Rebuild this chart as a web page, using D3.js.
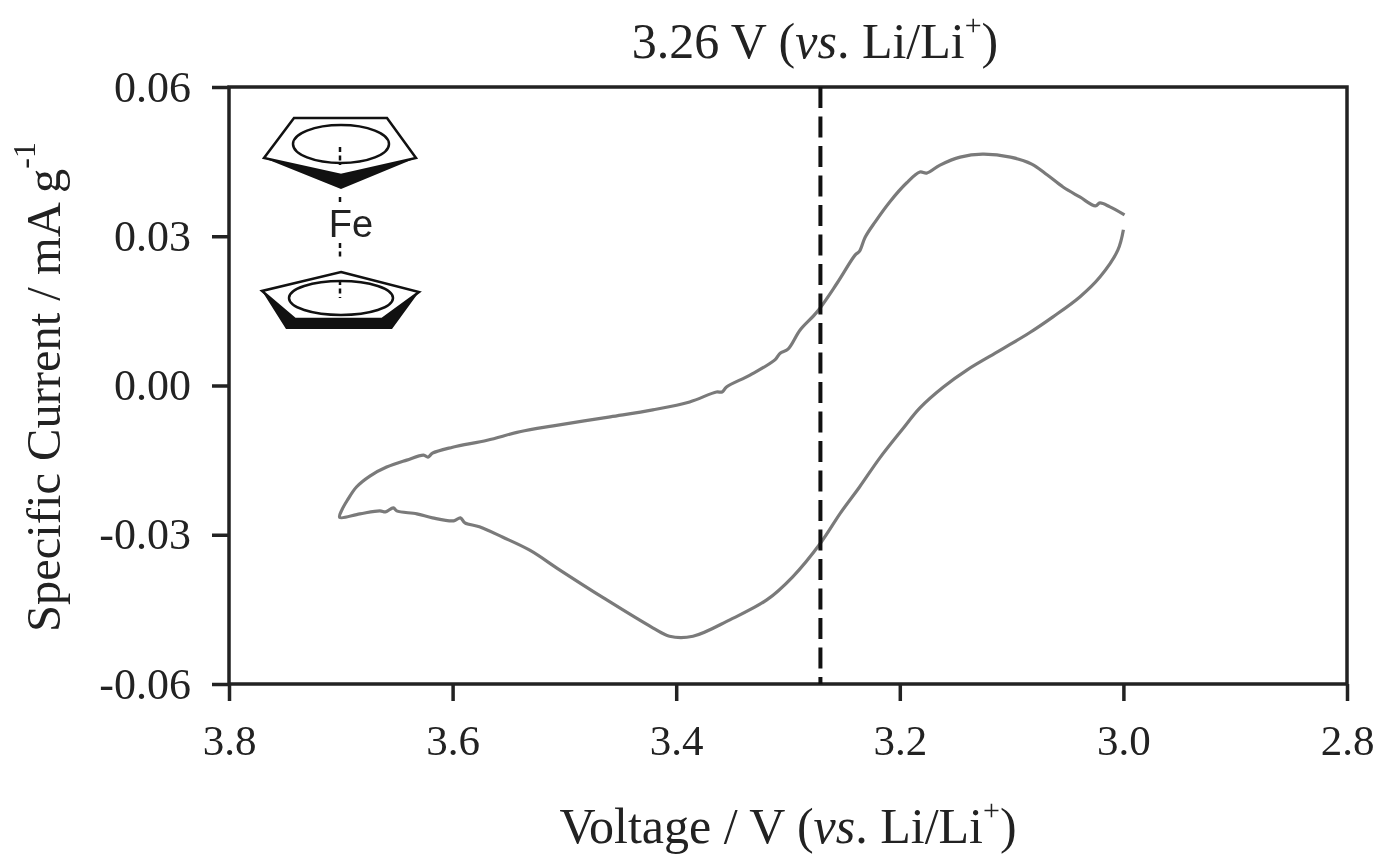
<!DOCTYPE html>
<html>
<head>
<meta charset="utf-8">
<script src="https://cdn.jsdelivr.net/npm/d3@7"></script>
<style>
  html, body { margin: 0; padding: 0; background: #fff; }
  svg { filter: blur(0.5px); }
  text { font-family: 'Liberation Serif', serif; fill: #222; }
  .axis path, .axis line { stroke: #222; stroke-width: 3.5; }
  .x-axis text { font-size: 43px; }
  .y-axis text { font-size: 44px; }
  .label { font-size: 50px; }
  .y-label { font-size: 48.5px; }
</style>
</head>
<body>
<div id="chart"></div>
<script>
// cyclic voltammogram
const voltage = [
  3.000, 3.005, 3.021, 3.039, 3.063, 3.084, 3.110, 3.140, 3.161, 3.182,
  3.198, 3.218, 3.236, 3.253, 3.271, 3.296, 3.319, 3.352, 3.385, 3.406,
  3.421, 3.465, 3.504, 3.531, 3.555, 3.576, 3.589, 3.593, 3.599, 3.618,
  3.632, 3.650, 3.653, 3.660, 3.665, 3.683, 3.701, 3.699, 3.694, 3.686,
  3.674, 3.659, 3.641, 3.626, 3.622, 3.618, 3.600, 3.569, 3.540, 3.510,
  3.459, 3.421, 3.388, 3.364, 3.359, 3.355, 3.334, 3.312, 3.307, 3.300,
  3.289, 3.274, 3.256, 3.240, 3.236, 3.231, 3.222, 3.209, 3.194, 3.182,
  3.176, 3.164, 3.146, 3.126, 3.101, 3.082, 3.068, 3.054, 3.039, 3.025,
  3.021, 3.012, 2.999
]
const current = [
  0.0313, 0.0272, 0.0218, 0.0178, 0.0138, 0.0106, 0.0071, 0.0031, -0.0003, -0.0045,
  -0.0089, -0.0146, -0.0204, -0.0256, -0.0317, -0.0385, -0.0431, -0.0471, -0.0504, -0.0504,
  -0.0487, -0.0427, -0.0371, -0.0331, -0.0305, -0.0284, -0.0276, -0.0266, -0.0272, -0.0266,
  -0.0258, -0.0252, -0.0246, -0.0254, -0.0252, -0.0258, -0.0265, -0.0250, -0.0230, -0.0204,
  -0.0182, -0.0164, -0.0150, -0.0140, -0.0144, -0.0136, -0.0124, -0.0110, -0.0093, -0.0081,
  -0.0063, -0.0049, -0.0033, -0.0013, -0.0013, -0.0003, 0.0021, 0.0051, 0.0065, 0.0073,
  0.0112, 0.0148, 0.0206, 0.0262, 0.0270, 0.0298, 0.0329, 0.0369, 0.0407, 0.0429,
  0.0427, 0.0443, 0.0459, 0.0465, 0.0459, 0.0445, 0.0423, 0.0399, 0.0379, 0.0361,
  0.0367, 0.0359, 0.0343
]
const xTicks = [3.8, 3.6, 3.4, 3.2, 3.0, 2.8]
const yTicks = [-0.06, -0.03, 0, 0.03, 0.06]
const markerVoltage = 3.271

const margin = { top: 87, left: 229, right: 45, bottom: 179 }
const width = 1392 - margin.left - margin.right
const height = 863 - margin.top - margin.bottom

const svg = d3
  .select('#chart')
  .append('svg')
  .attr('width', 1392)
  .attr('height', 863)
  .style('display', 'block')

const g = svg
  .append('g')
  .attr('transform', 'translate(' + margin.left + ',' + margin.top + ')')

const xPositionScale = d3.scaleLinear().domain([3.8, 2.8]).range([0, width])
const yPositionScale = d3.scaleLinear().domain([-0.06, 0.06]).range([height, 0])

// frame
g.append('rect')
  .attr('width', width)
  .attr('height', height)
  .attr('fill', 'none')
  .attr('stroke', '#222')
  .attr('stroke-width', 3.5)

const xAxis = d3
  .axisBottom(xPositionScale)
  .tickValues(xTicks)
  .tickFormat(d3.format('.1f'))
  .tickSize(17)
  .tickPadding(23)
g.append('g')
  .attr('class', 'axis x-axis')
  .attr('transform', 'translate(0,' + height + ')')
  .call(xAxis)

const yAxis = d3
  .axisLeft(yPositionScale)
  .tickValues(yTicks)
  .tickFormat(d => d.toFixed(2))
  .tickSize(17)
  .tickPadding(21)
g.append('g')
  .attr('class', 'axis y-axis')
  .call(yAxis)

g.selectAll('.axis .domain').remove()

// curve
const line = d3
  .line()
  .x(d => xPositionScale(d[0]))
  .y(d => yPositionScale(d[1]))
  .curve(d3.curveCatmullRom.alpha(0.5))

g.append('path')
  .datum(d3.zip(voltage, current))
  .attr('d', line)
  .attr('fill', 'none')
  .attr('stroke', '#7a7a7a')
  .attr('stroke-width', 3.2)

// marker
g.append('line')
  .attr('x1', xPositionScale(markerVoltage))
  .attr('x2', xPositionScale(markerVoltage))
  .attr('y1', 0)
  .attr('y2', height)
  .attr('stroke', '#111')
  .attr('stroke-width', 4)
  .attr('stroke-dasharray', '21 8.5')

// titles
function labelWithSup(sel, before, italic, after, sup) {
  sel.append('tspan').text(before)
  sel.append('tspan').attr('font-style', 'italic').text(italic)
  sel.append('tspan').text(after)
  sel.append('tspan').attr('font-size', '30px').attr('dy', -23).text(sup)
  sel.append('tspan').attr('dy', 23).text(')')
}

svg.append('text')
  .attr('class', 'label')
  .attr('x', 815)
  .attr('y', 58)
  .attr('text-anchor', 'middle')
  .call(labelWithSup, '3.26 V (', 'vs', '. Li/Li', '+')

svg.append('text')
  .attr('class', 'label')
  .attr('x', 788)
  .attr('y', 843)
  .attr('text-anchor', 'middle')
  .call(labelWithSup, 'Voltage / V (', 'vs', '. Li/Li', '+')

const yLabel = svg.append('text')
  .attr('class', 'y-label')
  .attr('text-anchor', 'middle')
  .attr('transform', 'translate(60,387) rotate(-90)')
yLabel.append('tspan').text('Specific Current / mA g')
yLabel.append('tspan').attr('font-size', '32px').attr('dy', -25).text('-1')

// ferrocene sketch
const ink = '#111'
const inset = svg.append('g')

function ring(points, cx, cy, rx, ry) {
  inset.append('polygon')
    .attr('points', points)
    .attr('fill', '#fff')
    .attr('stroke', ink)
    .attr('stroke-width', 2.5)
  inset.append('ellipse')
    .attr('cx', cx)
    .attr('cy', cy)
    .attr('rx', rx)
    .attr('ry', ry)
    .attr('fill', 'none')
    .attr('stroke', ink)
    .attr('stroke-width', 2.5)
}

ring('294,118 387,118 416,158 341,175 264,158', 341, 144, 48, 19)
ring('341,272 419,292 382,319 295,319 262,291', 341, 298, 52, 17)

inset.append('polygon')
  .attr('points', '264,158 341,175 416,158 341,189')
  .attr('fill', ink)
inset.append('polygon')
  .attr('points', '262,291 295,319 382,319 419,292 392,329 286,329')
  .attr('fill', ink)

const dots = [[147, 165], [197, 203], [243, 260], [280, 298]]
inset.selectAll('.dots')
  .data(dots)
  .enter()
  .append('line')
  .attr('x1', 340)
  .attr('x2', 340)
  .attr('y1', d => d[0])
  .attr('y2', d => d[1])
  .attr('stroke', ink)
  .attr('stroke-width', 2.5)
  .attr('stroke-dasharray', '5 3.5')

inset.append('text')
  .attr('x', 351)
  .attr('y', 237)
  .attr('text-anchor', 'middle')
  .style('font-family', "'Liberation Sans', sans-serif")
  .style('font-size', '38px')
  .text('Fe')
</script>
</body>
</html>
